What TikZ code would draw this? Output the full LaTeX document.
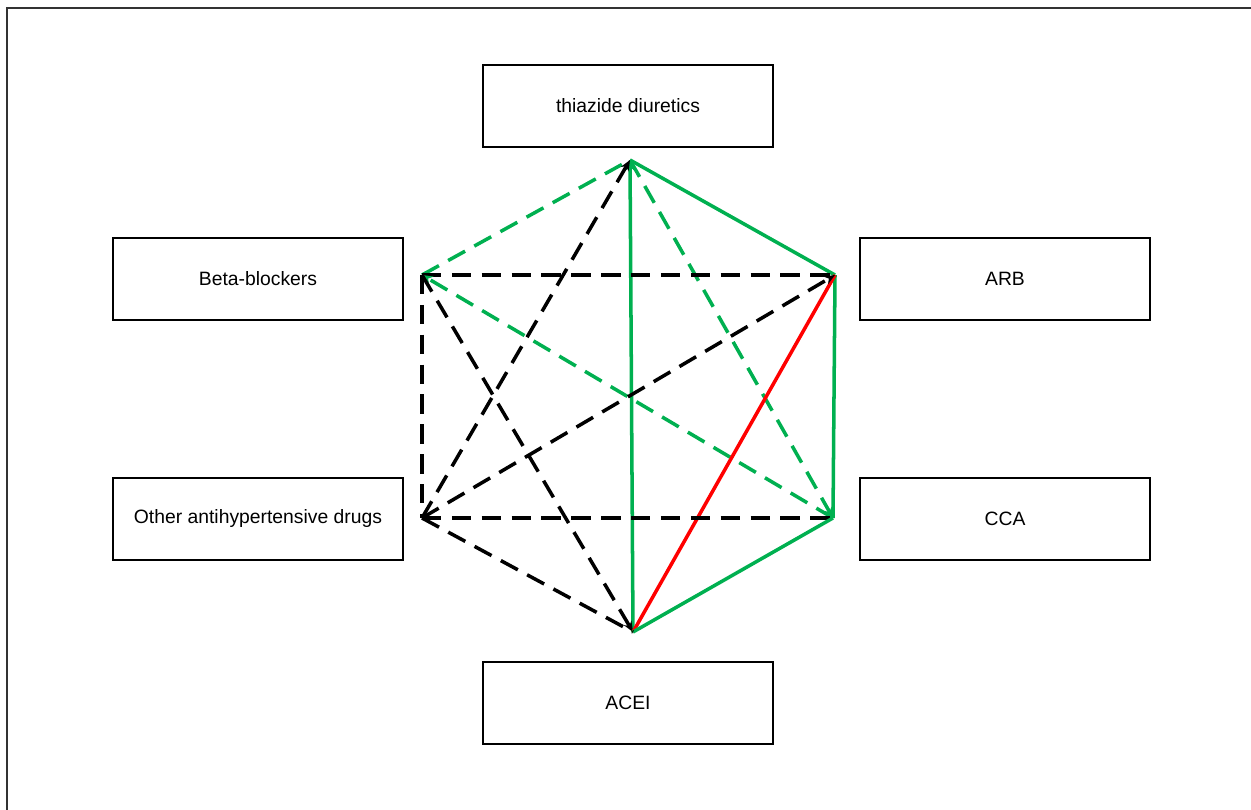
\documentclass[tikz,border=0pt]{standalone}
\usepackage{fontspec}
\setmainfont{Liberation Sans}
\usetikzlibrary{arrows.meta}

\begin{document}
\begin{tikzpicture}[x=0.02cm, y=-0.02cm,
    box/.style={rectangle, draw, line width=1.3pt, minimum width=5.8cm, minimum height=1.64cm, font=\fontsize{11}{13}\selectfont},
    link/.style={line width=2pt},
    dlink/.style={link, dash pattern=on 11pt off 6pt},
    grn/.style={draw={rgb,255:red,0;green,176;blue,80}},
    >={Stealth[length=6pt,width=5pt]}]
        \useasboundingbox (0,0) rectangle (1251,810);
        \draw[line width=1.5pt, black!80] (7,810) -- (7,8) -- (1251,8);
        % Nodes
        \node[box] (TD)  at (628,106) {thiazide diuretics};
        \node[box] (BB)  at (258,279) {Beta-blockers};
        \node[box] (ARB) at (1005,279) {ARB};
        \node[box] (OTH) at (258,519) {Other antihypertensive drugs};
        \node[box] (CCA) at (1005,519) {CCA};
        \node[box] (ACE) at (628,703) {ACEI};
        % Corners of the hexagon
        \coordinate (t) at (630,160);
        \coordinate (b) at (422,275);
        \coordinate (a) at (835,275);
        \coordinate (o) at (422,518);
        \coordinate (c) at (833,518);
        \coordinate (e) at (633,632);
        % Edges
        \draw[dlink,grn] (b) -- (t);
        \draw[link,grn] (t) -- (a);
        \draw[link,grn,->] (e) -- (t);
        \draw[dlink,grn,->] (t) -- (c);
        \draw[dlink,->] (o) -- (t);
        \draw[dlink] (b) -- (a);
        \draw[dlink,grn,->] (c) -- (b);
        \draw[dlink] (b) -- (o);
        \draw[dlink,->] (b) -- (e);
        \draw[link,grn] (a) -- (c);
        \draw[link,red] (a) -- (e);
        \draw[dlink,->] (o) -- (a);
        \draw[dlink] (o) -- (c);
        \draw[link,grn] (c) -- (e);
        \draw[dlink] (o) -- (e);
\end{tikzpicture}
\end{document}
